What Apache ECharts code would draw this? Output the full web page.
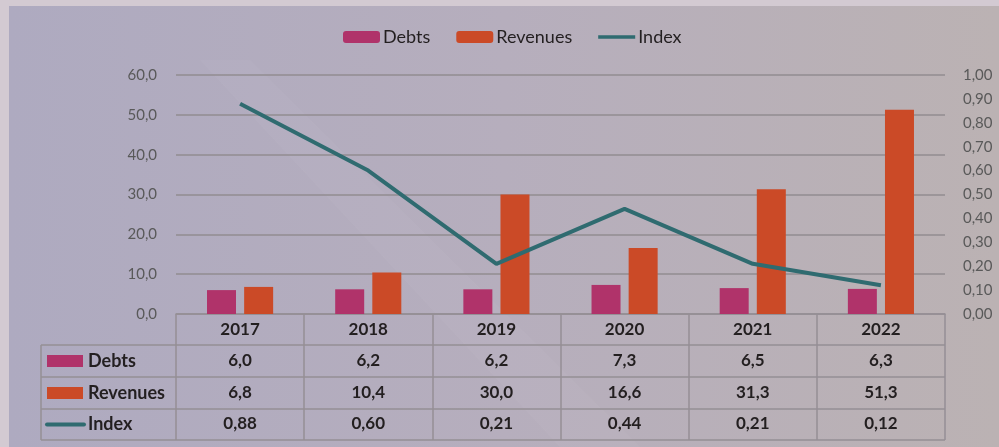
<!DOCTYPE html>
<html>
<head>
<meta charset="utf-8">
<script src="https://cdn.jsdelivr.net/npm/echarts@6/dist/echarts.min.js"></script>
<style>
html,body{margin:0;padding:0;}
#main{width:999px;height:447px;}
</style>
</head>
<body>
<div id="main"></div>
<script>
var years = ['2017', '2018', '2019', '2020', '2021', '2022'];//年份
var debts = [6.0, 6.2, 6.2, 7.3, 6.5, 6.3];
var revenues = [6.8, 10.4, 30.0, 16.6, 31.3, 51.3];
var index = [0.88, 0.60, 0.21, 0.44, 0.21, 0.12];

var colDebts = '#b0336a';
var colRev = '#cb4a27';
var colIdx = '#2f6b70';
var lineCol = '#958f95';
var font = 'Lato';

function fmt(v, d) {
    return v.toFixed(d).replace('.', ',');
}

// 表格行：用额外的类目轴显示数值
function rowAxis(values, d, offset) {
    return {
        type: 'category',
        data: values.map(function (v) { return fmt(v, d); }),
        position: 'bottom',
        offset: offset,
        axisLine: {show: false},
        axisTick: {show: false},
        axisLabel: {margin: 7, fontFamily: font, fontSize: 17, fontWeight: 'bold', color: '#231f20', interval: 0}
    };
}

var myChart = echarts.init(document.getElementById('main'));

var left = 41, gl = 176, gr = 945;
var rows = [345, 377, 409, 440];

var graphic = [
    {type: 'rect', z: -10, shape: {x: 9, y: 6, width: 990, height: 441},
        style: {fill: new echarts.graphic.LinearGradient(0, 0, 1, 0, [
            {offset: 0, color: '#aeaac0'}, {offset: 0.5, color: '#b6aebd'}, {offset: 1, color: '#bbb2b3'}])}},
    {type: 'polygon', z: -9, shape: {points: [[200, 60], [250, 60], [640, 447], [560, 447]]},
        style: {fill: 'rgba(255,255,255,0.035)'}},
    // 表格边框
    {type: 'line', shape: {x1: left, y1: rows[0], x2: left, y2: rows[3]}, style: {stroke: lineCol, lineWidth: 1.5}}
];
rows.forEach(function (y) {
    graphic.push({type: 'line', shape: {x1: left, y1: y, x2: gr, y2: y}, style: {stroke: lineCol, lineWidth: 1.5}});
});
// 左侧标签
var labels = ['Debts', 'Revenues', 'Index'];
var cols = [colDebts, colRev, colIdx];
for (var i = 0; i < 3; i++) {
    var cy = (rows[i] + rows[i + 1]) / 2;
    if (i < 2) {
        graphic.push({type: 'rect', shape: {x: 47, y: cy - 6, width: 36, height: 12}, style: {fill: cols[i]}});
    } else {
        graphic.push({type: 'line', shape: {x1: 47, y1: cy, x2: 84, y2: cy}, style: {stroke: cols[i], lineWidth: 4, lineCap: 'round'}});
    }
    graphic.push({type: 'text', x: 88, y: cy, style: {text: labels[i], fontFamily: font, fontSize: 18, fontWeight: 'bold', fill: '#231f20', verticalAlign: 'middle'}});
}

var option = {
    backgroundColor: '#d3cad2',
    animation: false,
    graphic: graphic,
    legend: {
        top: 23,
        left: 338,
        itemWidth: 37,
        itemHeight: 12,
        itemGap: 26,
        textStyle: {fontFamily: font, fontSize: 18, color: '#231f20', padding: [0, 0, 0, -2]},
        data: ['Debts', 'Revenues', {name: 'Index', icon: 'path://M0,0L40,0L40,4L0,4Z'}]
    },
    grid: {left: gl, right: 999 - gr, top: 75, bottom: 133},
    xAxis: [
        {
            type: 'category',
            data: years,
            axisLine: {show: true, lineStyle: {color: lineCol, width: 1.5}},
            axisTick: {show: true, length: 126, lineStyle: {color: lineCol, width: 1.5}},
            axisLabel: {margin: 7, fontFamily: font, fontSize: 17, fontWeight: 'bold', color: '#231f20', interval: 0}
        },
        rowAxis(debts, 1, 31),
        rowAxis(revenues, 1, 63),
        rowAxis(index, 2, 94)
    ],
    yAxis: [
        {
            type: 'value', min: 0, max: 60, interval: 10,
            axisLine: {show: false}, axisTick: {show: false},
            splitLine: {lineStyle: {color: '#928c90', width: 1.5}},
            axisLabel: {margin: 19, fontFamily: font, fontSize: 15, color: '#595959', formatter: function (v) { return fmt(v, 1); }}
        },
        {
            type: 'value', min: 0, max: 1, interval: 0.1,
            axisLine: {show: false}, axisTick: {show: false}, splitLine: {show: false},
            axisLabel: {margin: 18, fontFamily: font, fontSize: 15, color: '#595959', formatter: function (v) { return fmt(v, 2); }}
        }
    ],
    series: [
        {name: 'Debts', type: 'bar', data: debts, barWidth: 29, barGap: '28%', itemStyle: {color: colDebts}},
        {name: 'Revenues', type: 'bar', data: revenues, barWidth: 29, itemStyle: {color: colRev}},
        {name: 'Index', type: 'line', yAxisIndex: 1, data: index, symbol: 'none', lineStyle: {color: colIdx, width: 4}, itemStyle: {color: colIdx}}
    ]
};
myChart.setOption(option);
</script>
</body>
</html>
